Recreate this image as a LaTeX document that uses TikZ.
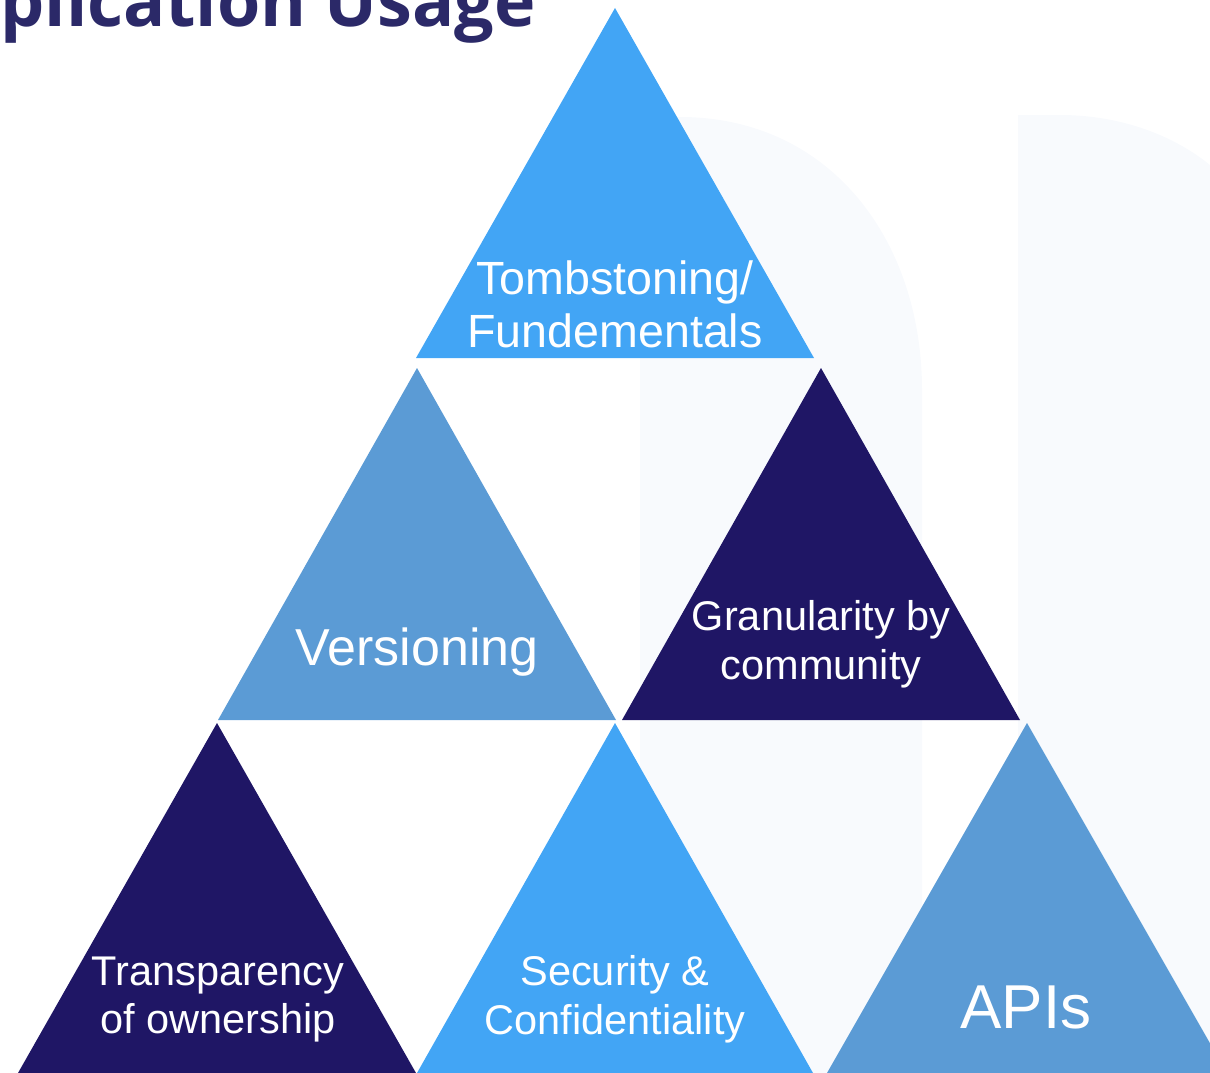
\documentclass[tikz,border=0pt]{standalone}
\usepackage{fontspec}
\setmainfont{Liberation Sans}
\newfontfamily\titlefont{Open Sans}

\definecolor{skyblue}{HTML}{42A5F5}
\definecolor{steelblue}{HTML}{5B9BD5}
\definecolor{deepnavy}{HTML}{1F1665}
\definecolor{titlenavy}{HTML}{2B2968}
\definecolor{bgtint}{HTML}{F8FAFD}

% filled triangle: style, apex coordinate, half base width, height
\newcommand\pyrtri[4]{\fill[#1] (#2) -- ++(#3,#4) -- ++({-2*#3},0) -- cycle;}

\tikzset{
  lbl/.style={text=white, inner sep=0pt, anchor=base},
  lblsmall/.style={lbl, font=\fontsize{41.5}{46}\selectfont},
}

\begin{document}
\begin{tikzpicture}[x=1pt,y=-1pt]
\useasboundingbox (0,0) rectangle (1210,1073);
\clip (0,0) rectangle (1210,1073);

% faint backdrop panels
\fill[bgtint] (640,1073) -- (640,117) -- (680,117)
  .. controls (830,117) and (922,240) .. (922,390) -- (922,1073) -- cycle;
\fill[bgtint] (1018,1073) -- (1018,115) -- (1060,115)
  .. controls (1150,115) and (1230,160) .. (1260,230) -- (1260,1073) -- cycle;

% apex points of the six triangles
\coordinate (apexTop) at (615,8);
\coordinate (apexMidL) at (417,368);
\coordinate (apexMidR) at (821,368);
\coordinate (apexBotL) at (217,723);
\coordinate (apexBotM) at (615,723);
\coordinate (apexBotR) at (1027,723);

\pyrtri{skyblue}{apexTop}{199}{350}
\pyrtri{steelblue}{apexMidL}{199}{352}
\pyrtri{deepnavy}{apexMidR}{199}{352}
\pyrtri{deepnavy}{apexBotL}{199}{350}
\pyrtri{skyblue}{apexBotM}{198}{350}
\pyrtri{steelblue}{apexBotR}{200}{350}

% labels
\node[lbl, font=\fontsize{46.6}{53}\selectfont] (topA) at (615,294) {Tombstoning/};
\node[lbl, font=\fontsize{46.6}{53}\selectfont] (topB) at (615,347) {Fundementals};

\node[lbl, font=\fontsize{52}{58}\selectfont] (vers) at (417,665) {Versioning};

\node[lblsmall] (granA) at (821,630) {Granularity by};
\node[lblsmall] (granB) at (821,679) {community};

\node[lblsmall] (transA) at (218,985) {Transparency};
\node[lblsmall] (transB) at (218,1033) {of ownership};

\node[lblsmall] (secA) at (615,985) {Security \&};
\node[lblsmall] (secB) at (615,1034) {Confidentiality};

\node[lbl, font=\fontsize{62}{68}\selectfont] (apis) at (1026,1028) {APIs};

% heading, running off the top left edge
\node[anchor=base east, inner sep=0pt, text=titlenavy,
      font=\titlefont\bfseries\fontsize{70}{70}\selectfont] (heading) at (536,27) {plication Usage};
\end{tikzpicture}
\end{document}
